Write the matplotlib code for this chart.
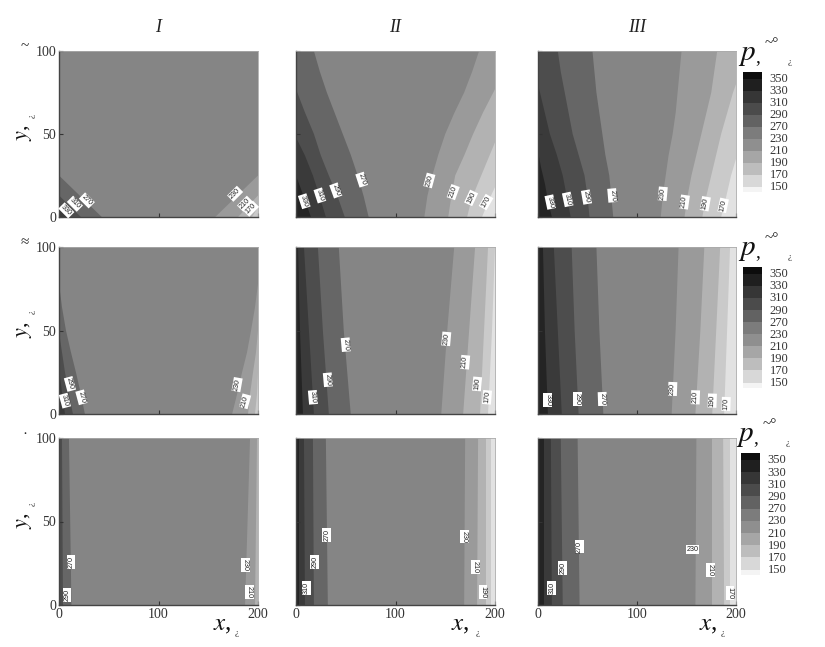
import matplotlib
matplotlib.use("Agg")
import matplotlib.pyplot as plt

W, H = 825, 647
SERIF = "Liberation Serif"
plt.rcParams["font.family"] = [SERIF, "DejaVu Serif"]

COL_TITLES = ["I", "II", "III"]
ROW_MARKS = ["~", "≈", "·"]
CB_LEVELS = [350, 330, 310, 290, 270, 230, 210, 190, 170, 150]
CB_GRAYS = ["#0c0c0c", "#1f1f1f", "#363636", "#4b4b4b", "#626262", "#7c7c7c",
            "#8f8f8f", "#a6a6a6", "#bdbdbd", "#d8d8d8", "#f4f4f4"]
BG_GRAY = "#858585"
LEFT_GRAYS = ["#666666", "#4d4d4d", "#3a3a3a", "#242424"]
RIGHT_GRAYS = ["#9a9a9a", "#b2b2b2", "#cacaca", "#e2e2e2"]

Y9 = [0, 12.5, 25, 37.5, 50, 62.5, 75, 87.5, 100]

# isobar positions: (x list, y list), from the mid-pressure zone to the wall
LEFT_11 = [([43, 0], [0, 25]), ([22, 0], [0, 13]), ([9, 0], [0, 6])]
RIGHT_11 = [([157, 200], [0, 25]), ([180, 200], [0, 13]), ([194, 200], [0, 6])]
LEFT_12 = [([73, 68, 62, 55, 47, 39, 31, 24, 18], Y9),
           ([49, 42, 33, 25, 18, 9, 0], [0, 12, 25, 37, 50, 63, 77]),
           ([30, 24, 17, 9, 0], [0, 12, 25, 37, 48]),
           ([15, 8, 0], [0, 12, 25])]
RIGHT_12 = [([129, 132, 137, 143, 150, 159, 169, 177, 184], Y9),
            ([153, 156, 160, 169, 178, 188, 200], [0, 12, 25, 37, 50, 63, 77]),
            ([172, 176, 182, 191, 200], [0, 10, 19, 32, 45]),
            ([187, 193, 200], [0, 9, 18])]
LEFT_13 = [([76, 74, 72, 68, 65, 62, 59, 57, 55], Y9),
           ([52, 50, 47, 41, 35, 31, 27, 23, 20], Y9),
           ([33, 29, 25, 19, 12, 6, 0], [0, 12.5, 25, 37.5, 50, 65, 80]),
           ([14, 10, 7, 3, 0], [0, 10, 20, 30, 40])]
RIGHT_13 = [([124, 126, 129, 132, 136, 139, 141, 143, 145], Y9),
            ([148, 151, 155, 160, 165, 170, 175, 178, 181], Y9),
            ([166, 170, 175, 180, 185, 191, 197, 200], [0, 12.5, 25, 37.5, 50, 62.5, 75, 80]),
            ([185, 190, 195, 200], [0, 12, 25, 35])]
LEFT_21 = [([26, 22, 17, 12, 7, 3, 0], [0, 12, 25, 37, 50, 64, 78]),
           ([14, 10, 6, 3, 0], [0, 12, 25, 37, 49]),
           ([6, 3, 0], [0, 13, 27])]
RIGHT_21 = [([174, 179, 184, 189, 193, 197, 200], [0, 12, 25, 37, 50, 64, 78]),
            ([190, 192, 195, 198, 200], [0, 12, 25, 37, 50]),
            ([197, 199, 200], [0, 12, 25])]
LEFT_22 = [([55, 48, 43], [0, 50, 100]), ([33, 27, 22], [0, 50, 100]),
           ([18, 13, 8], [0, 50, 100]), ([7, 4, 2], [0, 50, 100])]
RIGHT_22 = [([146, 152, 159], [0, 50, 100]), ([168, 174, 180], [0, 50, 100]),
            ([185, 189, 193], [0, 50, 100]), ([193, 197, 200], [0, 50, 100])]
LEFT_23 = [([66, 62, 59], [0, 50, 100]), ([41, 37, 34], [0, 50, 100]),
           ([24, 20, 16], [0, 50, 100]), ([10, 7, 5], [0, 50, 100])]
RIGHT_23 = [([135, 139, 142], [0, 50, 100]), ([159, 164, 168], [0, 50, 100]),
            ([176, 180, 184], [0, 50, 100]), ([188, 191, 194], [0, 50, 100])]
LEFT_31 = [([12.5, 10], [0, 100]), ([4, 3], [0, 100])]
RIGHT_31 = [([187, 192], [0, 100]), ([197, 199], [0, 100])]
LEFT_32 = [([32, 30], [0, 100]), ([18, 17], [0, 100]), ([9, 8], [0, 100]), ([3, 3], [0, 100])]
RIGHT_32 = [([169, 170], [0, 100]), ([182, 183], [0, 100]), ([191, 191], [0, 100]), ([196, 196], [0, 100])]
LEFT_33 = [([42, 40], [0, 100]), ([25, 23], [0, 100]), ([14, 13], [0, 100]), ([6, 6], [0, 100])]
RIGHT_33 = [([159, 160], [0, 100]), ([176, 176], [0, 100]), ([188, 187], [0, 100]), ([194, 194], [0, 100])]

# in-line labels: x, y, text, rotation
LABELS_11 = [(7.4, 4, "330", -45), (16, 8, "310", -45), (28, 10, "270", -45),
             (177, 14, "230", 45), (187, 8, "210", 45), (193, 5, "170", 45)]
LABELS_12 = [(8.3, 9.5, "330", -72), (24, 13, "310", -72), (40, 16, "290", -70), (66, 22.5, "270", -72),
             (134, 22, "230", 75), (158, 15, "210", 70), (176, 11.5, "190", 65), (191, 9, "170", 60)]
LABELS_13 = [(12.4, 9, "330", -78), (30, 10.6, "310", -78), (49, 12, "290", -80), (75, 13, "270", -85),
             (126, 14, "230", 85), (148, 9, "210", 82), (169, 8, "190", 80), (187, 7, "170", 78)]
LABELS_21 = [(6, 8, "310", -75), (11, 18, "290", -75), (22.5, 10, "270", -75),
             (179, 17.6, "230", 80), (187, 7.6, "210", 75)]
LABELS_22 = [(17, 10, "310", -85), (32, 20.5, "290", -85), (50, 41.5, "270", -85),
             (151, 45, "230", 85), (170, 31, "210", 85), (182, 18, "190", 85), (192, 10, "170", 85)]
LABELS_23 = [(10, 8.5, "330", -90), (40, 9, "290", -90), (65, 9, "270", -88),
             (136, 15, "230", 88), (159, 10, "210", 88), (176, 8, "190", 88), (190, 6, "170", 88)]
LABELS_31 = [(8, 6, "290", 90), (12, 26, "270", 90), (187, 24, "230", -90), (191.6, 7.5, "210", -90)]
LABELS_32 = [(10.7, 10, "310", 90), (19, 26, "290", 90), (31, 42, "270", 90),
             (169, 41, "230", -90), (180, 23, "210", -90), (188, 8, "190", -90)]
LABELS_33 = [(14, 10, "310", 90), (25, 22, "290", 90), (42, 35, "270", 90),
             (156, 33, "230", 0), (174, 21, "210", -90), (194, 7, "170", -90)]

PANELS = [[(LEFT_11, RIGHT_11, LABELS_11), (LEFT_12, RIGHT_12, LABELS_12), (LEFT_13, RIGHT_13, LABELS_13)],
          [(LEFT_21, RIGHT_21, LABELS_21), (LEFT_22, RIGHT_22, LABELS_22), (LEFT_23, RIGHT_23, LABELS_23)],
          [(LEFT_31, RIGHT_31, LABELS_31), (LEFT_32, RIGHT_32, LABELS_32), (LEFT_33, RIGHT_33, LABELS_33)]]

COL_PX = [(59, 258), (296, 495), (538, 736)]
ROW_PX = [(51, 217), (247, 414), (438, 605)]
CB_PX = [(743, 762, 72, 192), (743, 762, 267, 388), (741, 760, 453, 575)]
TICK_FS = 10
X_LABEL_PX = [222, 460, 708]
X_MARK_PX = [237, 478, 723]


def rect(x0, x1, y0, y1):
    return [x0 / W, 1 - y1 / H, (x1 - x0) / W, (y1 - y0) / H]


def ftext(px, py, s, **kw):
    kw.setdefault("ha", "center")
    kw.setdefault("va", "center")
    fig.text(px / W, 1 - py / H, s, **kw)


fig = plt.figure(figsize=(W / 100, H / 100), dpi=100, facecolor="white")

for r, (ry0, ry1) in enumerate(ROW_PX):
    for c, (cx0, cx1) in enumerate(COL_PX):
        left, right, labels = PANELS[r][c]
        ax = fig.add_axes(rect(cx0, cx1, ry0, ry1))
        ax.set_facecolor(BG_GRAY)
        ax.set_xlim(0, 200)
        ax.set_ylim(0, 100)
        for (xs, ys), g in zip(left, LEFT_GRAYS):
            ax.fill(list(xs) + [0, 0], list(ys) + [ys[-1], 0], color=g, lw=0)
        for (xs, ys), g in zip(right, RIGHT_GRAYS):
            ax.fill(list(xs) + [200, 200], list(ys) + [ys[-1], 0], color=g, lw=0)
        for x, y, s, rot in labels:
            ax.text(x, y, s, rotation=rot, fontsize=5.2, color="#222222", ha="center", va="center",
                    rotation_mode="anchor", family="Liberation Sans",
                    bbox=dict(facecolor="white", edgecolor="none", pad=0.7))
        ax.set_xticks([0, 100, 200])
        ax.set_yticks([0, 50, 100])
        ax.tick_params(direction="in", length=3, width=0.8, color="#333333", labelsize=TICK_FS,
                       labelcolor="#333333", pad=2,
                       labelleft=c == 0, labelbottom=r == 2)
        for side, sp in ax.spines.items():
            if side in ("left", "bottom"):
                sp.set_color("#444444")
                sp.set_linewidth(1.0)
            else:
                sp.set_color("#aaaaaa")
                sp.set_linewidth(0.6)

    # row mark, y label
    ftext(25, ry0 - 4, ROW_MARKS[r], fontsize=11, color="#222222")
    ftext(24, (ry0 + ry1) / 2 - 1, "$\\mathit{y}$,", fontsize=16, rotation=90, math_fontfamily="stix", color="#111111")
    ftext(32, (ry0 + ry1) / 2 - 18, "¿", fontsize=6.5, rotation=90, color="#222222")

    # colour bar
    bx0, bx1, by0, by1 = CB_PX[r]
    cax = fig.add_axes(rect(bx0, bx1, by0, by1))
    edges = [0] + [0.55 + i for i in range(10)] + [10]
    cax.set_xlim(0, 1)
    cax.set_ylim(10, 0)
    cax.axis("off")
    cax.pcolormesh([0, 1], edges, [[i] for i in range(11)],
                   cmap=matplotlib.colors.ListedColormap(CB_GRAYS), vmin=0, vmax=10)
    for i, lv in enumerate(CB_LEVELS):
        cax.text(1.4, 0.6 + i, str(lv), fontsize=9, color="#333333", va="center", ha="left", clip_on=False)
    # p label
    ftext(bx0 + 4, by0 - 17, "$\\mathit{p}$", fontsize=21, math_fontfamily="stix", color="#111111")
    ftext(bx0 + 15, by0 - 14, ",", fontsize=14, color="#111111")
    ftext(bx0 + 29, by0 - 28, "~°", fontsize=11, color="#222222")
    ftext(bx0 + 47, by0 - 10, "¿", fontsize=6.5, color="#222222")

for (cx0, cx1), t in zip(COL_PX, COL_TITLES):
    ftext((cx0 + cx1) / 2, 27, t, fontsize=13, style="italic", color="#222222")

for xp, mp in zip(X_LABEL_PX, X_MARK_PX):
    ftext(xp, 625, "$\\mathit{x}$,", fontsize=18, math_fontfamily="stix", color="#111111")
    ftext(mp, 633, "¿", fontsize=6.5, color="#222222")

fig.savefig("out.png", dpi=100)
